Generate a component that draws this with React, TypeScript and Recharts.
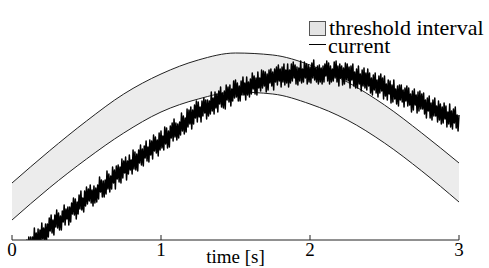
import React from "react";
import {
  ComposedChart,
  Area,
  Line,
  XAxis,
  YAxis,
  Legend,
} from "recharts";

// threshold band, sampled every 0.25 s
const BAND_T = [0, 0.25, 0.5, 0.75, 1, 1.25, 1.5, 1.75, 2, 2.25, 2.5, 2.75, 3];
const BAND_LOW = [0.2, 0.52, 0.81, 1.07, 1.28, 1.41, 1.48, 1.46, 1.36, 1.2, 0.97, 0.69, 0.38];
const BAND_HIGH = [0.57, 0.89, 1.19, 1.46, 1.66, 1.8, 1.87, 1.85, 1.75, 1.58, 1.35, 1.07, 0.77];

// measured current, one sample every 6.25 ms
const CURRENT_STEP = 0.00625;
const CURRENT = [
  -0.10, -0.22, -0.06, -0.20, -0.06, -0.26, -0.08, -0.17, -0.02, -0.18, -0.02, -0.15, -0.01, -0.19, -0.04, -0.16, 0.00, -0.17, 0.03, -0.14,
  0.03, -0.13, 0.03, -0.10, 0.12, -0.06, 0.07, -0.08, 0.11, -0.08, 0.10, -0.04, 0.17, 0.01, 0.12, -0.02, 0.16, -0.02, 0.16, 0.03,
  0.22, 0.09, 0.25, 0.07, 0.20, 0.05, 0.25, 0.13, 0.30, 0.12, 0.27, 0.10, 0.24, 0.10, 0.29, 0.18, 0.35, 0.15, 0.31, 0.21,
  0.33, 0.15, 0.33, 0.18, 0.37, 0.26, 0.42, 0.25, 0.41, 0.21, 0.38, 0.26, 0.45, 0.31, 0.49, 0.30, 0.42, 0.28, 0.49, 0.34,
  0.53, 0.36, 0.51, 0.39, 0.55, 0.37, 0.50, 0.34, 0.54, 0.37, 0.52, 0.38, 0.55, 0.41, 0.63, 0.48, 0.60, 0.43, 0.59, 0.43,
  0.60, 0.46, 0.69, 0.51, 0.66, 0.48, 0.64, 0.51, 0.73, 0.57, 0.70, 0.51, 0.74, 0.61, 0.75, 0.58, 0.73, 0.57, 0.81, 0.62,
  0.79, 0.67, 0.83, 0.60, 0.79, 0.66, 0.85, 0.70, 0.80, 0.66, 0.90, 0.71, 0.88, 0.70, 0.86, 0.69, 0.90, 0.77, 0.95, 0.75,
  0.91, 0.74, 0.94, 0.82, 0.99, 0.79, 0.93, 0.78, 1.00, 0.85, 0.99, 0.81, 1.05, 0.89, 1.03, 0.87, 1.00, 0.84, 1.07, 0.90,
  1.09, 0.92, 1.04, 0.90, 1.13, 0.96, 1.12, 0.92, 1.09, 0.93, 1.14, 1.02, 1.17, 0.99, 1.21, 1.03, 1.17, 1.00, 1.16, 1.02,
  1.18, 1.05, 1.27, 1.09, 1.24, 1.06, 1.22, 1.08, 1.31, 1.13, 1.30, 1.16, 1.33, 1.11, 1.30, 1.16, 1.35, 1.22, 1.39, 1.18,
  1.38, 1.23, 1.33, 1.18, 1.39, 1.24, 1.42, 1.27, 1.40, 1.21, 1.40, 1.24, 1.39, 1.26, 1.48, 1.29, 1.42, 1.26, 1.48, 1.32,
  1.46, 1.28, 1.49, 1.36, 1.53, 1.33, 1.47, 1.32, 1.49, 1.31, 1.55, 1.40, 1.53, 1.38, 1.55, 1.34, 1.51, 1.39, 1.59, 1.42,
  1.60, 1.43, 1.57, 1.39, 1.54, 1.39, 1.59, 1.45, 1.63, 1.45, 1.57, 1.40, 1.63, 1.45, 1.58, 1.43, 1.61, 1.46, 1.67, 1.51,
  1.64, 1.46, 1.62, 1.45, 1.68, 1.52, 1.62, 1.49, 1.70, 1.52, 1.69, 1.54, 1.68, 1.48, 1.66, 1.50, 1.70, 1.57, 1.71, 1.54,
  1.68, 1.50, 1.71, 1.58, 1.73, 1.55, 1.75, 1.59, 1.71, 1.53, 1.73, 1.58, 1.76, 1.55, 1.70, 1.57, 1.76, 1.53, 1.70, 1.57,
  1.76, 1.59, 1.78, 1.62, 1.75, 1.56, 1.73, 1.55, 1.72, 1.59, 1.79, 1.57, 1.71, 1.58, 1.78, 1.62, 1.76, 1.56, 1.75, 1.58,
  1.73, 1.57, 1.77, 1.62, 1.80, 1.60, 1.72, 1.58, 1.74, 1.56, 1.75, 1.58, 1.72, 1.56, 1.74, 1.58, 1.76, 1.64, 1.79, 1.59,
  1.77, 1.56, 1.74, 1.58, 1.71, 1.59, 1.78, 1.62, 1.79, 1.58, 1.74, 1.54, 1.76, 1.62, 1.74, 1.55, 1.72, 1.56, 1.77, 1.60,
  1.76, 1.59, 1.73, 1.52, 1.74, 1.60, 1.76, 1.54, 1.68, 1.52, 1.71, 1.52, 1.74, 1.56, 1.66, 1.49, 1.70, 1.54, 1.72, 1.52,
  1.67, 1.50, 1.71, 1.54, 1.67, 1.47, 1.62, 1.45, 1.65, 1.50, 1.67, 1.47, 1.60, 1.43, 1.64, 1.47, 1.66, 1.49, 1.62, 1.41,
  1.64, 1.44, 1.56, 1.40, 1.60, 1.46, 1.59, 1.37, 1.55, 1.38, 1.60, 1.41, 1.51, 1.36, 1.54, 1.34, 1.55, 1.40, 1.55, 1.38,
  1.50, 1.33, 1.52, 1.39, 1.54, 1.34, 1.52, 1.35, 1.46, 1.28, 1.49, 1.30, 1.51, 1.35, 1.45, 1.27, 1.48, 1.29, 1.49, 1.31,
  1.46, 1.31, 1.47, 1.26, 1.40, 1.22, 1.42, 1.29, 1.44, 1.22, 1.37, 1.20, 1.40, 1.24, 1.42, 1.24, 1.34, 1.18, 1.39, 1.20,
  1.36, 1.16, 1.33, 1.17, 1.37, 1.21, 1.34, 1.13, 1.28, 1.16, 1.36, 1.13, 1.29, 1.11, 1.31, 1.17, 1.33, 1.12, 1.25, 1.09,
  1.25,
];

const X_TICKS = [0, 1, 2, 3];
const FONT = '"Liberation Serif", "DejaVu Serif", serif';

const bandData = BAND_T.map((t, i) => ({ t, band: [BAND_LOW[i], BAND_HIGH[i]] }));
const currentData = CURRENT.map((v, i) => ({ t: i * CURRENT_STEP, current: v }));

const LegendBox = () => (
  <div style={{ fontFamily: FONT, fontSize: 22, lineHeight: "18px", color: "#000" }}>
    <div style={{ display: "flex", alignItems: "flex-start", height: 18 }}>
      <span
        style={{
          display: "inline-block",
          width: 15,
          height: 13,
          marginTop: 2,
          marginRight: 3,
          background: "#e4e4e4",
          border: "1px solid #555",
        }}
      />
      <span>threshold interval</span>
    </div>
    <div style={{ display: "flex", alignItems: "flex-start", height: 18 }}>
      <span
        style={{
          display: "inline-block",
          width: 17,
          height: 1,
          marginTop: 7,
          marginRight: 2,
          background: "#000",
        }}
      />
      <span>current</span>
    </div>
  </div>
);

export default function App() {
  return (
    <div style={{ position: "absolute", left: 0, top: 0, background: "#fff" }}>
      <ComposedChart
        width={489}
        height={268}
        data={bandData}
        margin={{ top: 8, right: 30, left: 12, bottom: 0 }}
      >
        <XAxis
          dataKey="t"
          type="number"
          domain={[0, 3]}
          ticks={X_TICKS}
          height={28}
          stroke="#222"
          tickSize={-5}
          tickMargin={8}
          tick={{ fontSize: 19, fill: "#000", fontFamily: FONT }}
          label={{
            value: "time [s]",
            position: "insideBottom",
            offset: 5,
            fill: "#000",
            fontSize: 19,
            fontFamily: FONT,
          }}
        />
        <YAxis
          type="number"
          domain={[0, 2.32]}
          allowDataOverflow
          width={0}
          tick={false}
          tickLine={false}
          axisLine={{ stroke: "#888" }}
        />
        <Legend
          layout="horizontal"
          verticalAlign="middle"
          align="center"
          wrapperStyle={{ top: 19, left: 309, width: "auto" }}
          content={() => <LegendBox />}
        />
        <Area
          dataKey="band"
          type="monotone"
          fill="#ececec"
          fillOpacity={1}
          stroke="#222"
          strokeWidth={1}
          isAnimationActive={false}
        />
        <Line
          data={currentData}
          dataKey="current"
          type="linear"
          stroke="#000"
          strokeWidth={1.5}
          strokeLinejoin="round"
          dot={false}
          isAnimationActive={false}
        />
      </ComposedChart>
    </div>
  );
}
